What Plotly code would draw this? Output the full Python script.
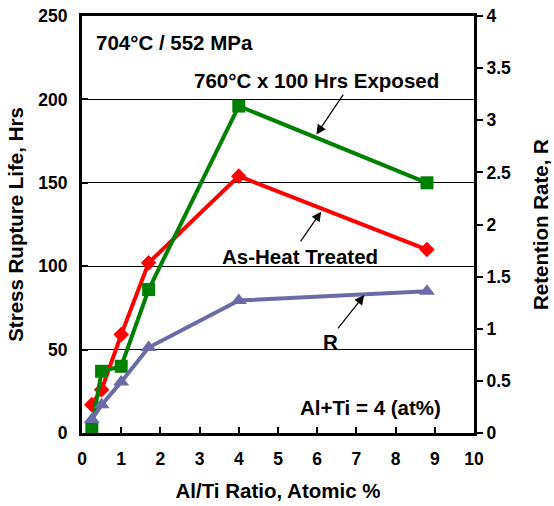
import plotly.graph_objects as go

ratio = [0.25, 0.5, 1.0, 1.7, 4.0, 8.8]
exposed_hrs = [3, 37, 40, 86, 196, 150]
heat_treated_hrs = [17, 26, 59, 102, 154, 110]
retention_r = [0.13, 0.27, 0.49, 0.82, 1.27, 1.36]

FONT = "Liberation Sans, Arial, sans-serif"

fig = go.Figure()
fig.add_trace(go.Scatter(x=ratio, y=heat_treated_hrs, mode="lines+markers",
                         line=dict(color="#FF0000", width=4),
                         marker=dict(symbol="diamond", size=12, color="#FF0000"),
                         showlegend=False))
fig.add_trace(go.Scatter(x=ratio, y=exposed_hrs, mode="lines+markers",
                         line=dict(color="#008000", width=4),
                         marker=dict(symbol="square", size=13, color="#008000"),
                         showlegend=False))
fig.add_trace(go.Scatter(x=ratio, y=retention_r, mode="lines+markers", yaxis="y2",
                         line=dict(color="#6B6BA8", width=4),
                         marker=dict(symbol="triangle-up", size=14, color="#6B6BA8"),
                         showlegend=False))

tickfont = dict(family=FONT, size=17.5, color="black", weight="bold")
titlefont = dict(family=FONT, size=20.5, color="black", weight="bold")

fig.update_layout(
    width=554, height=506,
    margin=dict(l=82, r=80, t=16, b=73),
    paper_bgcolor="white", plot_bgcolor="white",
    xaxis=dict(range=[0, 10], dtick=1, ticks="inside", ticklen=6, tickwidth=2,
               tickcolor="black", showline=True, linewidth=3, linecolor="black",
               mirror=True, showgrid=False, zeroline=False, tickfont=tickfont,
               ticklabelstandoff=8, automargin=False,
               title=dict(text="Al/Ti Ratio, Atomic %", font=titlefont, standoff=16)),
    yaxis=dict(range=[0, 250], dtick=50, ticks="inside", ticklen=6, tickwidth=2,
               tickcolor="black", showline=True, linewidth=3, linecolor="black",
               showgrid=True, gridcolor="black", gridwidth=1, zeroline=False,
               tickfont=tickfont, ticklabelstandoff=8, automargin=False,
               title=dict(text="Stress Rupture Life, Hrs", font=titlefont, standoff=10)),
    yaxis2=dict(range=[0, 4], dtick=0.5, overlaying="y", side="right",
                ticks="outside", ticklen=6, tickwidth=1.5, tickcolor="black",
                showline=True, linewidth=3, linecolor="black", showgrid=False,
                zeroline=False, tickfont=tickfont, automargin=False,
                title=dict(text="Retention Rate, R", font=titlefont, standoff=24)),
)

annfont = dict(family=FONT, size=20.5, color="black", weight="bold")
texts = [
    ("704°C / 552 MPa", 2.36, 234),
    ("760°C x 100 Hrs Exposed", 5.99, 211.6),
    ("As-Heat Treated", 5.57, 106),
    ("R", 6.35, 54.7),
    ("Al+Ti = 4 (at%)", 7.35, 15),
]
for t, x, y in texts:
    fig.add_annotation(text=t, x=x, y=y, xref="x", yref="y", showarrow=False,
                       font=annfont, xanchor="center", yanchor="middle")

arrows = [
    (6.69, 203.8, 5.98, 179),
    (5.55, 114, 6.10, 132.7),
    (6.5, 61.8, 7.2, 82.7),
]
for ax, ay, x, y in arrows:
    fig.add_annotation(text="", x=x, y=y, ax=ax, ay=ay, xref="x", yref="y",
                       axref="x", ayref="y", showarrow=True, arrowhead=2,
                       arrowsize=1.6, arrowwidth=1.2, arrowcolor="black")

fig.write_html("out.html")
